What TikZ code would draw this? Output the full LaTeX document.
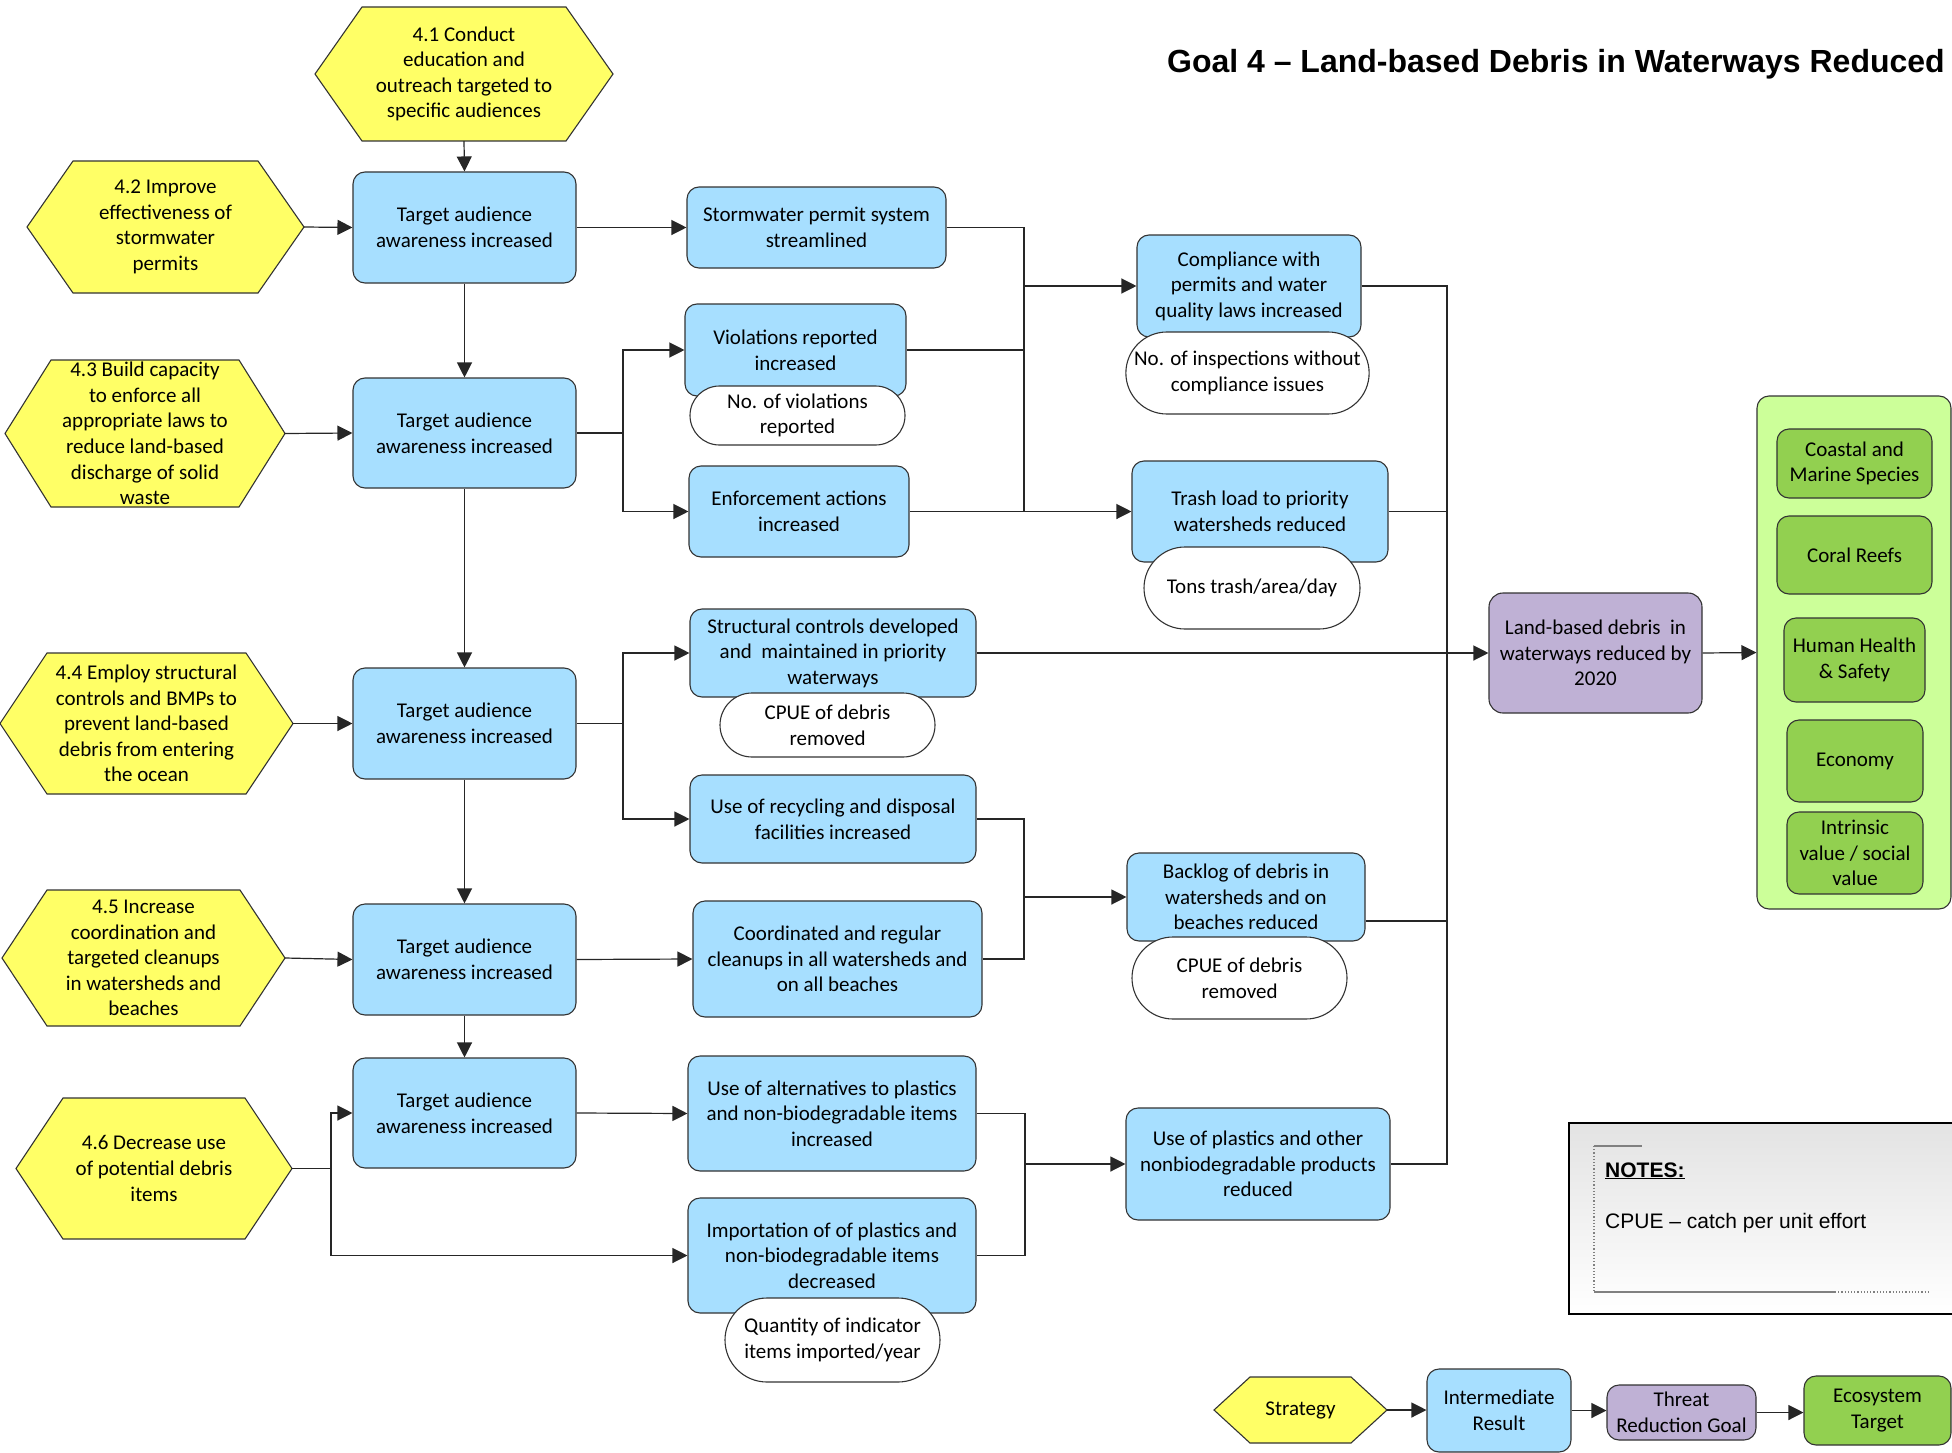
\documentclass[tikz,border=0pt]{standalone}
\usepackage{fontspec}
\setmainfont{Carlito}
\newfontfamily\arialfont{Liberation Sans}
\usetikzlibrary{arrows.meta,shapes.misc}

\definecolor{stratyellow}{HTML}{FFFF66}
\definecolor{irblue}{HTML}{A7DFFF}
\definecolor{goalpurple}{HTML}{BFB1D5}
\definecolor{panelgreen}{HTML}{CCFF99}
\definecolor{targetgreen}{HTML}{92D050}
\definecolor{boxline}{HTML}{333333}
\definecolor{linecol}{HTML}{262626}

\tikzset{
  txt/.style={font=\fontsize{21}{25.6}\selectfont, align=center, inner sep=2pt, text=black},
  sz/.style 2 args={minimum width=#1pt, minimum height=#2pt},
  hexfill/.style={fill=stratyellow, draw=boxline, line width=1.1pt, line join=miter},
  stratnode/.style={txt, draw=none, fill=none},
  irbox/.style={txt, draw=boxline, fill=irblue, rounded corners=12pt, line width=1.1pt},
  goalbox/.style={txt, draw=boxline, fill=goalpurple, rounded corners=14pt, line width=1.1pt},
  targetbox/.style={txt, draw=boxline, fill=targetgreen, rounded corners=12pt, line width=1.1pt},
  panelbox/.style={draw=boxline, fill=panelgreen, rounded corners=12pt, line width=1.1pt},
  indic/.style={txt, draw=boxline, fill=white, rounded rectangle, line width=1.1pt},
  conn/.style={draw=linecol, line width=1.2pt},
  arr/.style={conn, -{Triangle[length=15pt,width=15pt]}},
}

% strategy hexagon: name, cx, cy, width, height, corner inset, text
\newcommand\stratnodehex[7]{%
  \filldraw[hexfill] ({#2-#4/2},#3) -- ({#2-#4/2+#6},{#3-#5/2}) -- ({#2+#4/2-#6},{#3-#5/2})
     -- ({#2+#4/2},#3) -- ({#2+#4/2-#6},{#3+#5/2}) -- ({#2-#4/2+#6},{#3+#5/2}) -- cycle;
  \node[stratnode, sz={#4}{#5}] (#1) at (#2,#3) {#7};%
}

\begin{document}
\begin{tikzpicture}[x=1pt,y=-1pt]
\useasboundingbox (0,0) rectangle (1952,1453);

% title
\node[anchor=base east, inner sep=0pt, font=\arialfont\bfseries\fontsize{32}{36}\selectfont] (title) at (1945,73)
  {Goal 4 – Land-based Debris in Waterways Reduced};

% strategies
\stratnodehex{s41}{464}{74}{298}{134}{47}{4.1 Conduct\\education and\\outreach targeted to\\specific audiences}
\stratnodehex{s42}{165.5}{227}{277}{132}{46}{4.2 Improve\\effectiveness of\\stormwater\\permits}
\stratnodehex{s43}{145}{433.5}{280}{147}{46}{4.3 Build capacity\\to enforce all\\appropriate laws to\\reduce land-based\\discharge of solid\\waste}
\stratnodehex{s44}{146.5}{723.5}{293}{141}{47}{4.4 Employ structural\\controls and BMPs to\\prevent land-based\\debris from entering\\the ocean}
\stratnodehex{s45}{143.5}{958}{283}{136}{45}{4.5 Increase\\coordination and\\targeted cleanups\\in watersheds and\\beaches}
\stratnodehex{s46}{154}{1168.5}{276}{141}{47}{4.6 Decrease use\\of potential debris\\items}

% target audience results
\node[irbox, sz={223}{111}] (ta1) at (464.5,227.5) {Target audience\\awareness increased};
\node[irbox, sz={223}{110}] (ta2) at (464.5,433) {Target audience\\awareness increased};
\node[irbox, sz={223}{111}] (ta3) at (464.5,723.5) {Target audience\\awareness increased};
\node[irbox, sz={223}{111}] (ta4) at (464.5,959.5) {Target audience\\awareness increased};
\node[irbox, sz={223}{110}] (ta5) at (464.5,1113) {Target audience\\awareness increased};

% second column of results
\node[irbox, sz={259}{81}] (storm) at (816.5,227.5) {Stormwater permit system\\streamlined};
\node[irbox, sz={221}{92}] (viol) at (795.5,350) {Violations reported\\increased};
\node[irbox, sz={220}{91}] (enf) at (799,511.5) {Enforcement actions\\increased};
\node[irbox, sz={286}{88}] (struct) at (833,653) {Structural controls developed\\and\ \ maintained in priority\\waterways};
\node[irbox, sz={286}{88}] (recyc) at (833,819) {Use of recycling and disposal\\facilities increased};
\node[irbox, sz={289}{116}] (coord) at (837.5,959) {Coordinated and regular\\cleanups in all watersheds and\\on all beaches};
\node[irbox, sz={288}{115}] (alt) at (832,1113.5) {Use of alternatives to plastics\\and non-biodegradable items\\increased};
\node[irbox, sz={288}{115}] (import) at (832,1255.5) {Importation of of plastics and\\non-biodegradable items\\decreased};

% third column of results
\node[irbox, sz={224}{102}] (compl) at (1249,286) {Compliance with\\permits and water\\quality laws increased};
\node[irbox, sz={256}{101}] (trash) at (1260,511.5) {Trash load to priority\\watersheds reduced};
\node[irbox, sz={238}{88}] (backlog) at (1246,897) {Backlog of debris in\\watersheds and on\\beaches reduced};
\node[irbox, sz={264}{112}] (plast) at (1258,1164) {Use of plastics and other\\nonbiodegradable products\\reduced};

% indicators
\node[indic, sz={219}{59}] (iviol) at (797.5,415.5) {No. of violations\\reported};
\node[indic, sz={243}{82}] (iinsp) at (1247.5,373) {No. of inspections without\\compliance issues};
\node[indic, sz={220}{82}] (itons) at (1252,588) {Tons trash/area/day};
\node[indic, sz={219}{64}] (icpue1) at (827.5,725) {CPUE of debris\\removed};
\node[indic, sz={219}{82}] (icpue2) at (1239.5,978) {CPUE of debris\\removed};
\node[indic, sz={219}{84}] (iquant) at (832.5,1340) {Quantity of indicator\\items imported/year};

% threat reduction goal
\node[goalbox, sz={213}{120}] (goal) at (1595.5,653) {Land-based debris\ \ in\\waterways reduced by\\2020};

% ecosystem targets
\node[panelbox, sz={194}{513}] (panel) at (1854,652.5) {};
\node[targetbox, sz={155}{69}] (coast) at (1854.5,463.5) {Coastal and\\Marine Species};
\node[targetbox, sz={155}{78}] (coral) at (1854.5,555) {Coral Reefs};
\node[targetbox, sz={141}{84}] (human) at (1854.5,660) {Human Health\\\& Safety};
\node[targetbox, sz={136}{82}] (econ) at (1855,761) {Economy};
\node[targetbox, sz={136}{82}] (intr) at (1855,853) {Intrinsic\\value / social\\value};

% branch points
\coordinate (bl) at (623,0);
\coordinate (bs) at (331,0);
\coordinate (bm) at (1024,0);
\coordinate (bm2) at (1025,0);
\coordinate (bus) at (1447,0);
\coordinate (bko) at ([yshift=-24pt]backlog.east);

% strategy links
\draw[arr] (s41.south) -- (ta1.north);
\draw[arr] (s42.east) -- (ta1.west);
\draw[arr] (s43.east) -- (ta2.west);
\draw[arr] (s44.east) -- (ta3.west);
\draw[arr] (s45.east) -- (ta4.west);
\draw[conn] (s46.east) -- (bs |- s46.east);
\draw[arr] (bs |- s46.east) |- (ta5.west);
\draw[arr] (bs |- s46.east) |- (import.west);

% awareness chain
\draw[arr] (ta1.south) -- (ta2.north);
\draw[arr] (ta2.south) -- (ta3.north);
\draw[arr] (ta3.south) -- (ta4.north);
\draw[arr] (ta4.south) -- (ta5.north);

% awareness to second column
\draw[arr] (ta1.east) -- (storm.west);
\draw[conn] (ta2.east) -- (bl |- ta2.east);
\draw[arr] (bl |- ta2.east) |- (viol.west);
\draw[arr] (bl |- ta2.east) |- (enf.west);
\draw[conn] (ta3.east) -- (bl |- ta3.east);
\draw[arr] (bl |- ta3.east) |- (struct.west);
\draw[arr] (bl |- ta3.east) |- (recyc.west);
\draw[arr] (ta4.east) -- (coord.west);
\draw[arr] (ta5.east) -- (alt.west);

% second column to third column
\draw[conn] (storm.east) -| (bm |- trash.west);
\draw[conn] (viol.east) -- (bm |- viol.east);
\draw[arr] (bm |- compl.west) -- (compl.west);
\draw[arr] (enf.east) -- (trash.west);
\draw[conn] (recyc.east) -| (bm |- coord.east) -- (coord.east);
\draw[arr] (bm |- backlog.west) -- (backlog.west);
\draw[conn] (alt.east) -| (bm2 |- import.east) -- (import.east);
\draw[arr] (bm2 |- plast.west) -- (plast.west);

% third column to goal
\draw[conn] (compl.east) -| (bus |- plast.east) -- (plast.east);
\draw[conn] (trash.east) -- (bus |- trash.east);
\draw[conn] (bko) -- (bus |- bko);
\draw[arr] (struct.east) -- (goal.west);
\draw[arr] (goal.east) -- (panel.west);

% notes (frame runs off the right edge)
\node[draw=none, top color=black!11, bottom color=white, sz={390}{191}, anchor=north west] (notes) at (1569,1123) {};
\draw[line width=2.5pt] (1960,1123) -- (1569,1123) -- (1569,1314) -- (1960,1314);
\draw[gray, dotted, line width=1.2pt] (1594,1146) -- (1594,1292);
\draw[gray, line width=1.6pt] (1594,1146) -- (1642,1146);
\draw[gray, line width=1.6pt] (1594,1292) -- (1835,1292);
\draw[gray, dotted, line width=1.2pt] (1835,1292) -- (1929,1292);
\node[anchor=base west, inner sep=0pt, font=\arialfont\bfseries\fontsize{21}{25}\selectfont] (nhead) at (1605,1177) {\underline{NOTES:}};
\node[anchor=base west, inner sep=0pt, font=\arialfont\fontsize{21}{25}\selectfont] (ntext) at (1605,1228) {CPUE – catch per unit effort};

% legend
\stratnodehex{lstrat}{1300.5}{1410}{173}{66}{36}{Strategy}
\node[irbox, sz={144}{83}] (lir) at (1499,1410.5) {Intermediate\\Result};
\node[goalbox, rounded corners=12pt, sz={149}{55}] (lthreat) at (1681.5,1412.5) {Threat\\Reduction Goal};
\node[targetbox, sz={147}{69}] (leco) at (1877.5,1410.5) {Ecosystem\\Target};
\draw[arr] (lstrat.east) -- (lir.west |- lstrat.east);
\draw[arr] (lir.east) -- (lthreat.west |- lir.east);
\draw[arr] (lthreat.east) -- (leco.west |- lthreat.east);
\end{tikzpicture}
\end{document}
